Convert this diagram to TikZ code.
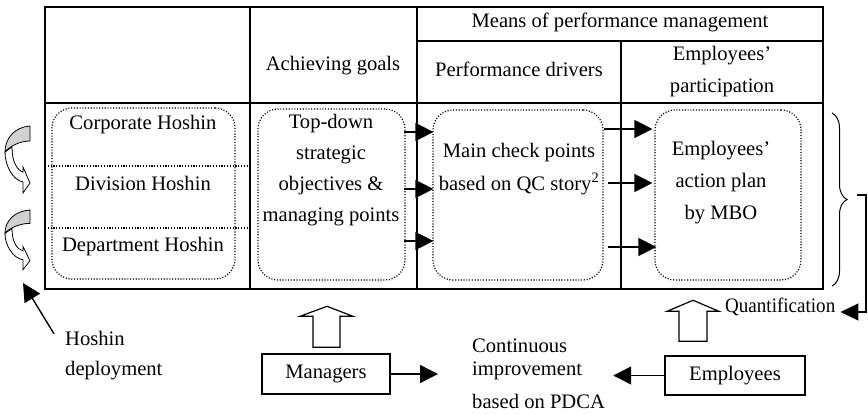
\documentclass[tikz,border=0pt]{standalone}
\usepackage{fontspec}
\setmainfont{Liberation Serif}
\usetikzlibrary{arrows.meta,calc,decorations.pathreplacing}

\tikzset{
  frame/.style={line width=1.4pt},
  dotline/.style={line width=1.2pt, dash pattern=on 1.1pt off 1.7pt},
  dotbox/.style={draw, dotline, rounded corners=20pt, inner sep=0pt},
  txt/.style={inner sep=0pt, anchor=mid},
  ltxt/.style={inner sep=0pt, anchor=mid west},
  arr/.style={line width=1.4pt, -{Triangle[length=18pt,width=18pt]}},
  plainbox/.style={draw, line width=1.4pt, inner sep=0pt},
  hollow/.style={draw, line width=1.2pt, fill=white, line join=miter},
  twist/.pic={
    % front of the ribbon with its head
    \filldraw[fill=white, line width=0.8pt]
      (-25,26) .. controls (-25,40) and (-17,54) .. (-7,56)
      -- (-7,67) -- (0,57) -- (-7,41) -- (-7,46)
      .. controls (-13,44) and (-18,36) .. (-18,21) -- cycle;
    % shaded back of the ribbon
    \filldraw[fill=gray!35, line width=0.8pt]
      (0,0) .. controls (-15,1) and (-25,12) .. (-25,26)
      .. controls (-20,20) and (-10,15) .. (0,15) -- cycle;
  }
}

\begin{document}
\begin{tikzpicture}[x=1pt,y=-1pt,font=\fontsize{20.6}{31}\selectfont]
\useasboundingbox (0,0) rectangle (868,415);

% grid of the table
\draw[frame] (45,7) rectangle (823,289);
\draw[frame] (45,103) -- (823,103);
\draw[frame] (417,41) -- (823,41);
\draw[frame] (250,7) -- (250,289);
\draw[frame] (417,7) -- (417,289);
\draw[frame] (621,41) -- (621,289);

% headings
\node[txt] (hmeans) at (620,25) {Means of performance management};
\node[txt] (hgoals) at (333,68) {Achieving goals};
\node[txt] (hdrv) at (519,74) {Performance drivers};
\node[txt] (hemp1) at (722,58) {Employees'};
\node[txt] (hemp2) at (722,90) {participation};

% dotted groups
\node[dotbox, minimum width=183pt, minimum height=171pt] (b1) at (143.5,193.5) {};
\node[dotbox, minimum width=147pt, minimum height=171pt] (b2) at (331.5,194.5) {};
\node[dotbox, minimum width=170pt, minimum height=170pt] (b3) at (518,195) {};
\node[dotbox, minimum width=146pt, minimum height=170pt] (b4) at (728,195) {};

\draw[dotline] (45,166) -- (250,166);
\draw[dotline] (45,228) -- (250,228);

% hoshin levels
\node[txt] (corp) at (143,127) {Corporate Hoshin};
\node[txt] (div) at (143,188) {Division Hoshin};
\node[txt] (dept) at (143,249) {Department Hoshin};

% strategic objectives
\node[txt] (td1) at (331,126) {Top-down};
\node[txt] (td2) at (331,157) {strategic};
\node[txt] (td3) at (331,188) {objectives \&};
\node[txt] (td4) at (331,219) {managing points};

% check points
\node[txt] (cp1) at (519,155) {Main check points};
\node[txt] (cp2) at (519,188) {based on QC story\textsuperscript{2}};

% action plan
\node[txt] (ap1) at (721,153) {Employees'};
\node[txt] (ap2) at (721,185) {action plan};
\node[txt] (ap3) at (721,217) {by MBO};

% links between the groups
\foreach \dy in {-62.5,-5.5,46.5}
  \draw[arr] ($(b2.east)+(-2,\dy)$) -- ($(b3.west |- b2.east)+(1,\dy)$);
\foreach \dy/\sx/\ex in {-66/0/-2, -12/4/-2, 52/4/2}
  \draw[arr] ($(b3.east)+(\sx,\dy)$) -- ($(b4.west |- b3.east)+(\ex,\dy)$);

% cascade of the hoshin
\pic at (30,126) {twist};
\pic[yscale=0.89] at (30,210) {twist};

% hoshin deployment
\node[ltxt] (hs1) at (65,343) {Hoshin};
\node[ltxt] (hs2) at (65,373) {deployment};
\coordinate (hdtip) at (23,283);
\draw[arr] ($(hs1.north west)+(-11,3)$) -- (hdtip);

% brace and quantification loop
\draw[decorate, decoration={brace, amplitude=15pt}, line width=1pt] (832,113) -- (832,286);
\coordinate (bt) at (857,195);
\node[ltxt] (quant) at (725,310) {\scalebox{0.925}[1]{Quantification}};
\draw[line width=1.1pt, -{Triangle[length=18pt,width=17pt]}]
  (bt) -- ++(9,0) |- ($(quant.mid east)+(5,2)$);

% actors
\node[plainbox, minimum width=128pt, minimum height=40pt] (mgr) at (326,374) {Managers};
\node[plainbox, minimum width=140pt, minimum height=39pt] (emp) at (735,375.5) {Employees};

\draw[hollow] ($(mgr.north)+(-13,-6)$) -- ++(0,-31) -- ++(-13,0) -- ++(27,-10)
  -- ++(26,10) -- ++(-13,0) -- ++(0,31) -- cycle;
\draw[hollow] ($(emp.north)+(-56,-14)$) -- ++(0,-30) -- ++(-12,0) -- ++(26,-11)
  -- ++(26,11) -- ++(-12,0) -- ++(0,30) -- cycle;

% continuous improvement
\node[ltxt] (ci1) at (472,350) {Continuous};
\node[ltxt] (ci2) at (472,373) {improvement};
\node[ltxt] (ci3) at (472,406) {based on PDCA};

\coordinate (cmt) at ($(ci2.mid west)+(-34,0)$);
\coordinate (cet) at ($(ci2.mid east)+(31,0)$);
\draw[arr] (mgr.east) -- (cmt |- mgr.east);
\draw[arr] (emp.west) -- (cet |- emp.west);
\end{tikzpicture}
\end{document}
